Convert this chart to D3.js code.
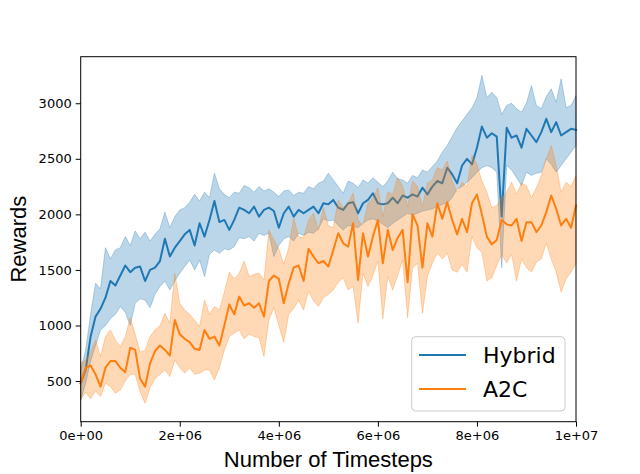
<!DOCTYPE html>
<html>
<head>
<meta charset="utf-8">
<script src="https://cdn.jsdelivr.net/npm/d3@7"></script>
<style>
  body { margin: 0; background: #fff; }
</style>
</head>
<body>
<div id="chart"></div>
<script>
// rewards over training, mean and spread per method
var series_names = ["Hybrid", "A2C"]
var series_colors = ["#1f77b4", "#ff7f0e"]

// timesteps: one sample every 1e5 steps, 0 .. 1e7
var timesteps = d3.range(0, 101).map(function(i) { return i * 1e5 })

var hybrid_mean = [480, 600, 900, 1080, 1150, 1250, 1400, 1360, 1450, 1540,
    1480, 1520, 1530, 1400, 1500, 1520, 1580, 1780, 1620, 1700,
    1760, 1820, 1860, 1720, 1920, 1800, 1950, 2120, 1930, 1950,
    1860, 1950, 2060, 2040, 2010, 2070, 1980, 2040, 2060, 2030,
    1880, 2010, 2070, 1980, 2040, 2010, 2040, 2070, 2010, 2100,
    2090, 2130, 2060, 2040, 2100, 2110, 2010, 2100, 2130, 2190,
    2100, 2090, 2100, 2150, 2100, 2170, 2150, 2180, 2160, 2240,
    2180, 2250, 2300, 2280, 2420, 2360, 2280, 2440, 2500, 2450,
    2600, 2790, 2690, 2730, 2700, 1980, 2780, 2690, 2710, 2600,
    2770, 2710, 2650, 2740, 2860, 2740, 2830, 2710, 2740, 2770, 2760]
var hybrid_upper = [600, 780, 1100, 1380, 1330, 1700, 1600, 1680, 1700, 1800,
    1720, 1850, 1780, 1840, 1760, 1820, 1870, 2020, 1880, 1980,
    2040, 2060, 2110, 2180, 2120, 2200, 2150, 2370, 2230, 2180,
    2150, 2200, 2190, 2260, 2240, 2200, 2250, 2210, 2230, 2200,
    2160, 2210, 2220, 2170, 2200, 2190, 2250, 2230, 2280, 2300,
    2370, 2310, 2250, 2190, 2300, 2280, 2240, 2310, 2280, 2330,
    2290, 2250, 2300, 2380, 2320, 2310, 2280, 2350, 2330, 2400,
    2380, 2430, 2480, 2560, 2620, 2700, 2780, 2840, 2900, 2960,
    3050, 3250, 3050, 3100, 3050, 2900, 2980, 3000, 2950, 2920,
    3000, 3160, 2980, 2950, 3060, 3130, 3010, 3220, 2960, 2980, 3070]
var hybrid_lower = [330, 480, 680, 820, 960, 1000, 1060, 1100, 1170, 1120,
    1000, 1200, 1240, 1230, 1160, 1280, 1350, 1400, 1320, 1400,
    1470, 1530, 1590, 1500, 1590, 1440, 1640, 1680, 1650, 1690,
    1680, 1710, 1790, 1780, 1800, 1760, 1830, 1810, 1830, 1620,
    1720, 1780, 1800, 1760, 1830, 1810, 1840, 1830, 1870, 1960,
    1940, 1950, 1900, 1860, 1900, 1890, 1880, 1920, 1950, 1960,
    1940, 1910, 1880, 1920, 1950, 1980, 2010, 1990, 2010, 2030,
    2040, 2050, 2070, 2090, 2100, 2150, 2230, 2250, 2290, 2330,
    2380, 2420, 2440, 2420, 2380, 1520, 2440, 2400, 2330, 2260,
    2380, 2350, 2370, 2380, 2500, 2450, 2380, 2440, 2500, 2560, 2620]

var a2c_mean = [480, 620, 640, 560, 450, 620, 680, 680, 620, 580,
    800, 780, 520, 450, 660, 770, 820, 780, 730, 1050,
    920, 880, 850, 790, 780, 960, 880, 900, 820, 1000,
    1190, 1100, 1260, 1180, 1200, 1160, 1200, 1080, 1400, 1450,
    1420, 1200, 1380, 1520, 1540, 1400, 1690, 1620, 1560, 1580,
    1530, 1680, 1830, 1740, 1710, 1920, 1410, 1830, 1620, 1800,
    1950, 1560, 1860, 1680, 1790, 1860, 1390, 2000, 1900, 1520,
    1920, 1800, 2100, 1960, 2110, 1950, 1820, 1960, 1840, 2100,
    2180, 2000, 1800, 1730, 1770, 1950, 1910, 1900, 1960, 1760,
    1930, 1930, 1840, 1900, 2020, 2170, 2050, 1900, 1960, 1880, 2080]
var a2c_upper = [660, 690, 760, 870, 720, 900, 960, 870, 810, 900,
    1070, 920, 760, 780, 900, 960, 1000, 1110, 1020, 1470,
    1200, 1140, 1100, 1050, 990, 1230, 1100, 1170, 1140, 1300,
    1480, 1420, 1470, 1580, 1440, 1460, 1470, 1410, 1860, 1770,
    1690, 1550, 1700, 1970, 1800, 1790, 1950, 2010, 1860, 2060,
    1900, 1880, 2130, 2060, 2100, 2190, 1950, 1900, 2100, 2150,
    2240, 1980, 2200, 2180, 2330, 2250, 2070, 2300, 2250, 2070,
    2280, 2310, 2420, 2400, 2480, 2300, 2200, 2290, 2250, 2530,
    2450, 2300, 2200, 2060, 2080, 2150, 2200, 2290, 2180, 2280,
    2260, 2150, 2240, 2350, 2500, 2620, 2440, 2200, 2290, 2250, 2350]
var a2c_lower = [330, 400, 340, 410, 360, 480, 450, 390, 420, 500,
    560, 560, 400, 300, 440, 520, 560, 600, 540, 690,
    620, 570, 620, 560, 570, 600, 600, 510, 620, 780,
    900, 930, 960, 880, 920, 900, 890, 720, 1050, 1160,
    1000, 850, 1100, 1150, 1230, 1140, 1310, 1220, 1170, 1250,
    1280, 1320, 1390, 1430, 1320, 1350, 1020, 1470, 1350, 1450,
    1580, 1060, 1440, 1320, 1450, 1590, 1070, 1520, 1560, 1110,
    1440, 1560, 1650, 1600, 1650, 1500, 1480, 1550, 1480, 1800,
    1700, 1660, 1400, 1430, 1540, 1640, 1560, 1640, 1400, 1600,
    1520, 1480, 1570, 1600, 1740, 1600, 1480, 1300, 1420, 1480, 1560]

var x_ticks = [0, 2e6, 4e6, 6e6, 8e6, 1e7]
var y_ticks = [500, 1000, 1500, 2000, 2500, 3000]

// set the dimensions and margins of the graph
var global_width = 640, global_height = 474
var margin = {top: 56.7, right: 64, bottom: 52.3, left: 80.7}
var width = global_width - margin.left - margin.right
var height = global_height - margin.top - margin.bottom

var svg = d3.select("#chart")
    .append("svg")
    .attr("width", global_width)
    .attr("height", global_height)
    .style("display", "block")

var plot = svg.append("g")
    .attr("transform", "translate(" + margin.left + "," + margin.top + ")")

// scales
const x = d3.scaleLinear()
    .domain([0, 1e7])
    .range([0, width])

const y = d3.scaleLinear()
    .domain([134, 3419])
    .range([height, 0])

// matplotlib style exponent labels, e.g. 2e+06
function sci(d) {
    if (d === 0) return "0e+00"
    var e = Math.floor(Math.log10(d))
    var m = Math.round(d / Math.pow(10, e))
    return m + "e+" + (e < 10 ? "0" + e : e)
}

// bands and mean lines, one method after the other
var methods = [
    {name: series_names[0], color: series_colors[0], mean: hybrid_mean, lo: hybrid_lower, hi: hybrid_upper},
    {name: series_names[1], color: series_colors[1], mean: a2c_mean, lo: a2c_lower, hi: a2c_upper}
]

var area = d3.area()
    .x(function(d) { return x(d.t) })
    .y0(function(d) { return y(d.lo) })
    .y1(function(d) { return y(d.hi) })

var line = d3.line()
    .x(function(d) { return x(d.t) })
    .y(function(d) { return y(d.m) })

methods.forEach(function(s) {
    var rows = timesteps.map(function(t, i) {
        return {t: t, m: s.mean[i], lo: s.lo[i], hi: s.hi[i]}
    })
    plot.append("path")
        .datum(rows)
        .attr("d", area)
        .attr("fill", s.color)
        .attr("fill-opacity", 0.3)
        .attr("stroke", s.color)
        .attr("stroke-opacity", 0.3)
        .attr("stroke-width", 1)
    plot.append("path")
        .datum(rows)
        .attr("d", line)
        .attr("fill", "none")
        .attr("stroke", s.color)
        .attr("stroke-width", 2)
        .attr("stroke-linejoin", "round")
        .attr("stroke-linecap", "square")
})

// axes
var xAxis = plot.append("g")
    .attr("transform", "translate(0," + height + ")")
    .call(d3.axisBottom(x).tickValues(x_ticks).tickFormat(sci).tickSize(5).tickPadding(4))
var yAxis = plot.append("g")
    .call(d3.axisLeft(y).tickValues(y_ticks).tickFormat(d3.format("d")).tickSize(5).tickPadding(4))

svg.selectAll(".tick text")
    .attr("font-family", "DejaVu Sans")
    .attr("font-size", 13)
    .attr("fill", "#000")
svg.selectAll(".tick line").attr("stroke", "#000")
svg.selectAll(".domain").remove()

// frame
plot.append("rect")
    .attr("x", 0)
    .attr("y", 0)
    .attr("width", width)
    .attr("height", height)
    .attr("fill", "none")
    .attr("stroke", "#000")
    .attr("stroke-width", 1)

// x axis label
svg.append("text")
    .attr("text-anchor", "middle")
    .attr("x", margin.left + width / 2)
    .attr("y", 467)
    .attr("font-family", "Liberation Sans, Arial")
    .attr("font-size", 22)
    .text("Number of Timesteps")

// y axis label
svg.append("text")
    .attr("text-anchor", "middle")
    .attr("transform", "translate(26," + (margin.top + height / 2) + ") rotate(-90)")
    .attr("font-family", "Liberation Sans, Arial")
    .attr("font-size", 22)
    .text("Rewards")

// legend
var legend = svg.append("g")
legend.append("rect")
    .attr("x", 411.7)
    .attr("y", 336.7)
    .attr("width", 153.3)
    .attr("height", 74.3)
    .attr("rx", 4)
    .attr("fill", "#fff")
    .attr("fill-opacity", 0.8)
    .attr("stroke", "#cccccc")
    .attr("stroke-width", 1)

legend.selectAll("legend_lines")
    .data(methods)
    .enter()
    .append("line")
    .attr("x1", 419)
    .attr("x2", 466)
    .attr("y1", function(d, i) { return 355 + i * 34 })
    .attr("y2", function(d, i) { return 355 + i * 34 })
    .attr("stroke", function(d) { return d.color })
    .attr("stroke-width", 2)

legend.selectAll("legend_texts")
    .data(methods)
    .enter()
    .append("text")
    .attr("x", 483)
    .attr("y", function(d, i) { return 363 + i * 34 })
    .attr("font-family", "DejaVu Sans")
    .attr("font-size", 22)
    .text(function(d) { return d.name })
</script>
</body>
</html>
